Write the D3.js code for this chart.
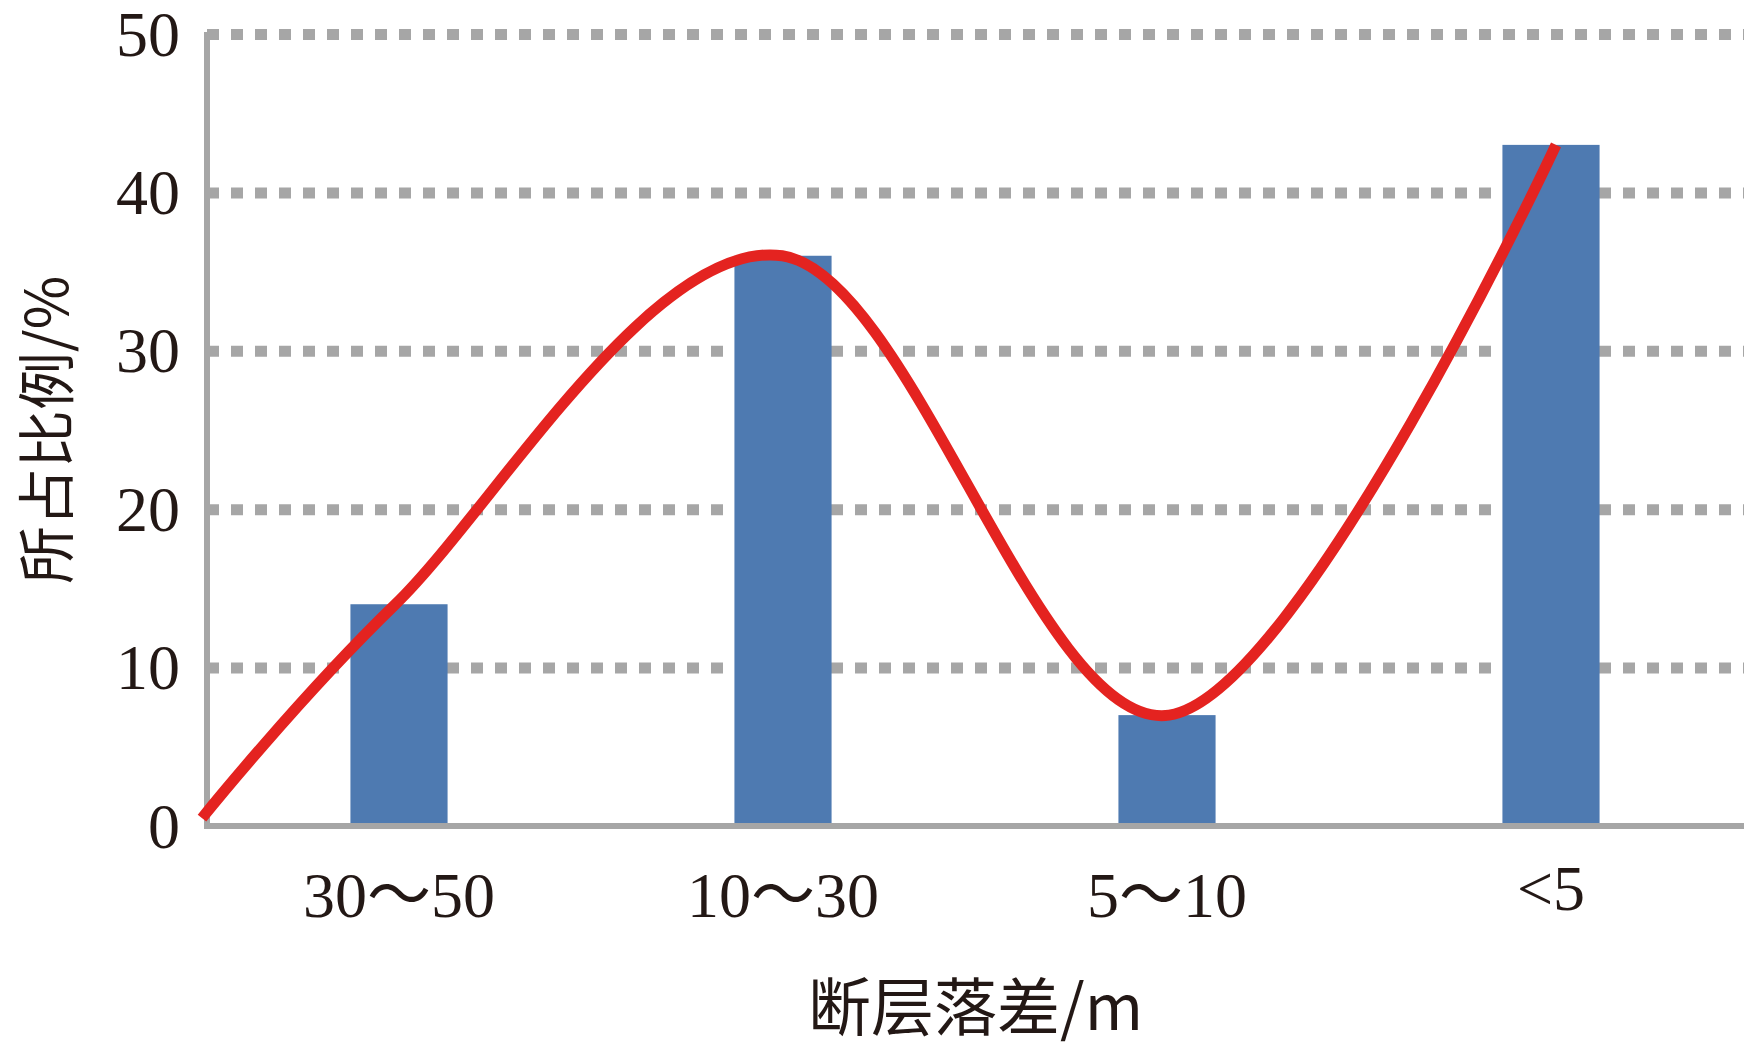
<!DOCTYPE html>
<html>
<head>
<meta charset="utf-8">
<script src="https://cdn.jsdelivr.net/npm/d3@7"></script>
<style>
  html, body { margin: 0; padding: 0; background: #ffffff; }
  svg { display: block; }
</style>
</head>
<body>
<svg id="chart" width="1744" height="1054"></svg>
<script>
// ---- data ----
const categories = ["30～50", "10～30", "5～10", "<5"];
const barValues = [14, 36, 7, 43];
// smoothed trend line: positions in category units (0 = origin), values in %
const trendPositions = [0, 0.5, 1.5, 2.5, 3.5];
const trendValues = [0.5, 14, 36, 7, 43];
const yTicks = [0, 10, 20, 30, 40, 50];
const xTitle = "断层落差/m";
const yTitle = "所占比例/%";

(function () {
// ---- layout ----
const mLeft = 207, mRight = 1744, mTop = 34, mBottom = 826;
const textColor = "#231815";
const gray = "#a6a6a6";
const serif = "'Liberation Serif', 'Times New Roman', 'Noto Sans CJK SC', serif";
const cjk = "'Noto Sans CJK SC', 'Liberation Serif', serif";

const svg = d3.select("#chart");

const x = d3.scaleBand()
  .domain(categories)
  .range([mLeft, mRight - 1])
  .paddingInner(0.747)
  .paddingOuter(0.3735);

const y = d3.scaleLinear().domain([0, 50]).range([mBottom, mTop]);

// trend line horizontal scale (category units)
const xt = d3.scaleLinear().domain([0, 3.5]).range([202, 1556]);

// gridlines + y axis labels
const yAxis = d3.axisLeft(y)
  .tickValues(yTicks)
  .tickFormat(d3.format("d"))
  .tickSizeInner(-(mRight - mLeft))
  .tickSizeOuter(0)
  .tickPadding(27);

const gy = svg.append("g")
  .attr("transform", `translate(${mLeft},0)`)
  .call(yAxis);
gy.select(".domain").remove();
gy.selectAll(".tick line")
  .attr("stroke", gray)
  .attr("stroke-width", 11)
  .attr("stroke-dasharray", "12 12")
  .attr("opacity", d => d === 0 ? 0 : 1);
gy.selectAll(".tick text")
  .attr("fill", textColor)
  .attr("font-family", serif)
  .attr("font-size", 64)
  .attr("dy", "0.33em");

// bars
svg.append("g").selectAll("rect")
  .data(barValues)
  .join("rect")
  .attr("x", (d, i) => x(categories[i]))
  .attr("width", x.bandwidth())
  .attr("y", d => y(d))
  .attr("height", d => y(0) - y(d))
  .attr("fill", "#4e7ab1");

// axis lines
svg.append("line")
  .attr("x1", mLeft).attr("x2", mLeft)
  .attr("y1", y(50) - 2).attr("y2", y(0) + 3)
  .attr("stroke", gray).attr("stroke-width", 6);

const xAxis = d3.axisBottom(x).tickSize(0).tickPadding(0);
const gx = svg.append("g")
  .attr("transform", `translate(0,${mBottom})`)
  .call(xAxis);
gx.select(".domain").remove();
svg.append("line")
  .attr("x1", mLeft - 3).attr("x2", mRight)
  .attr("y1", y(0)).attr("y2", y(0))
  .attr("stroke", gray).attr("stroke-width", 6);
gx.selectAll(".tick text")
  .attr("fill", textColor)
  .attr("font-family", serif)
  .attr("font-size", 64)
  .attr("y", d => d === "<5" ? 84 : 91)
  .attr("dy", 0)
  .attr("dominant-baseline", "auto");

// smoothed trend line
const line = d3.line()
  .x((d, i) => xt(trendPositions[i]))
  .y(d => y(d))
  .curve(d3.curveCardinal.tension(0));
svg.append("path")
  .datum(trendValues)
  .attr("d", line)
  .attr("fill", "none")
  .attr("stroke", "#e42320")
  .attr("stroke-width", 11)
  .attr("stroke-linecap", "butt");

// axis titles
svg.append("text")
  .attr("x", (mLeft + mRight) / 2)
  .attr("y", 1030)
  .attr("text-anchor", "middle")
  .attr("fill", textColor)
  .attr("font-family", cjk)
  .attr("font-size", 63)
  .text(xTitle);

svg.append("text")
  .attr("transform", `translate(68,${(mTop + mBottom) / 2}) rotate(-90)`)
  .attr("text-anchor", "middle")
  .attr("fill", textColor)
  .attr("font-family", cjk)
  .attr("font-size", 58)
  .text(yTitle);
})();
</script>
</body>
</html>
